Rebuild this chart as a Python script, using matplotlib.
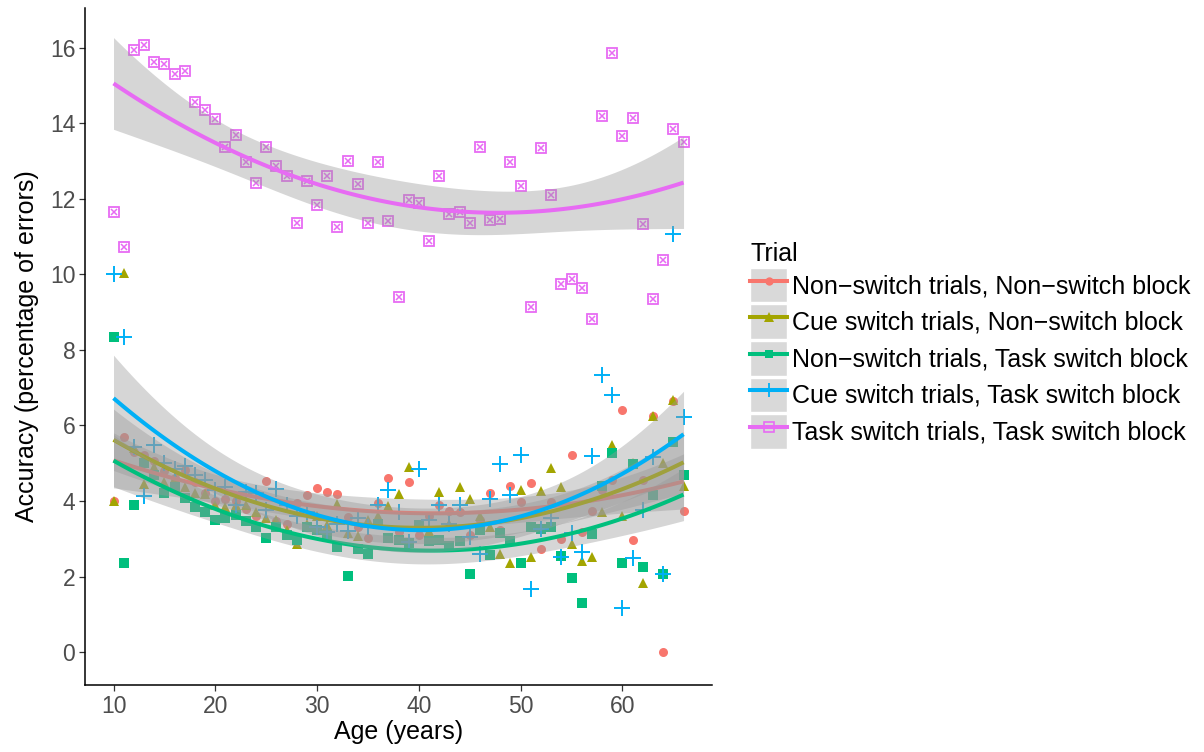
import matplotlib

matplotlib.use("Agg")
import matplotlib.pyplot as plt
import numpy as np
from matplotlib.lines import Line2D
from matplotlib.patches import Patch

plt.rcParams["font.family"] = ["Liberation Sans", "DejaVu Sans"]

ages = np.arange(10, 67)

# accuracy (% errors) per age, one list per trial type
nonswitch_nsblock = [
    4.00, 5.70, 5.30, 5.23, 5.06, 4.80, 4.60, 4.83, 4.50, 4.20,
    4.00, 4.04, 4.00, 3.80, 3.60, 4.53, 3.48, 3.40, 3.95, 4.15,
    4.35, 4.24, 4.18, 3.58, 3.31, 3.03, 3.95, 4.60, 3.18, 4.49,
    3.11, 3.60, 3.89, 3.74, 3.70, 3.10, 3.49, 4.20, 3.23, 4.39,
    3.98, 4.48, 2.72, 3.98, 3.00, 5.21, 3.18, 3.73, 4.30, 4.55,
    6.40, 2.98, 4.55, 6.24, 0.00, 6.64, 3.73,
]
cue_nsblock = [
    4.00, 10.03, 5.40, 4.44, 4.90, 4.50, 4.60, 4.37, 4.20, 4.18,
    3.89, 3.85, 3.90, 3.89, 3.70, 3.54, 3.50, 3.23, 2.85, 3.40,
    3.60, 3.36, 3.93, 3.16, 3.08, 3.49, 3.60, 3.86, 4.18, 4.89,
    3.30, 3.20, 4.23, 3.40, 4.37, 4.05, 3.60, 3.30, 2.60, 2.37,
    4.30, 2.51, 4.26, 4.88, 4.37, 2.87, 2.41, 2.51, 3.70, 5.48,
    3.60, 5.01, 1.83, 6.24, 5.01, 6.67, 4.39,
]
nonswitch_tsblock = [
    8.33, 2.37, 3.90, 5.01, 4.70, 4.20, 4.37, 4.07, 3.83, 3.71,
    3.51, 3.56, 3.62, 3.48, 3.30, 3.03, 3.30, 3.10, 2.97, 3.30,
    3.23, 3.10, 2.79, 2.01, 2.74, 2.59, 3.40, 3.01, 2.96, 2.89,
    3.36, 2.94, 2.98, 2.80, 2.94, 2.06, 3.23, 2.57, 3.16, 2.94,
    2.37, 3.30, 3.25, 3.30, 2.54, 1.95, 1.31, 3.12, 4.40, 5.27,
    2.37, 4.99, 2.24, 4.15, 2.06, 5.55, 4.68,
]
cue_tsblock = [
    10.02, 8.33, 5.43, 4.13, 5.47, 5.01, 4.86, 4.92, 4.70, 4.55,
    4.30, 4.37, 3.89, 4.24, 4.20, 3.76, 4.33, 3.90, 3.60, 3.70,
    3.31, 3.18, 3.40, 3.20, 3.56, 3.30, 3.90, 4.29, 3.70, 2.92,
    4.86, 3.50, 3.90, 3.40, 3.89, 3.05, 2.59, 4.05, 4.97, 4.15,
    5.21, 1.66, 3.25, 3.54, 2.52, 3.14, 2.65, 5.18, 7.33, 6.80,
    1.18, 2.48, 3.76, 5.17, 2.08, 11.08, 6.22,
]
task_tsblock = [
    11.65, 10.72, 15.93, 16.06, 15.62, 15.57, 15.31, 15.38, 14.57, 14.36,
    14.11, 13.37, 13.68, 12.97, 12.42, 13.37, 12.87, 12.60, 11.36, 12.47,
    11.83, 12.60, 11.24, 13.00, 12.40, 11.37, 12.96, 11.41, 9.39, 11.96,
    11.88, 10.88, 12.59, 11.60, 11.65, 11.35, 13.36, 11.44, 11.46, 12.96,
    12.34, 9.14, 13.34, 12.11, 9.75, 9.88, 9.64, 8.82, 14.18, 15.86,
    13.65, 14.13, 11.32, 9.35, 10.39, 13.85, 13.50,
]

labels = [
    "Non\u2212switch trials, Non\u2212switch block",
    "Cue switch trials, Non\u2212switch block",
    "Non\u2212switch trials, Task switch block",
    "Cue switch trials, Task switch block",
    "Task switch trials, Task switch block",
]
colors = ["#F8766D", "#A3A500", "#00BF7D", "#00B0F6", "#E76BF3"]
series = [nonswitch_nsblock, cue_nsblock, nonswitch_tsblock, cue_tsblock, task_tsblock]


def quad_fit(x, y, grid, t=2.005):
    """Quadratic lm fit with 95% confidence band."""
    X = np.column_stack([np.ones_like(x), x, x ** 2])
    beta, *_ = np.linalg.lstsq(X, y, rcond=None)
    resid = y - X @ beta
    s2 = resid @ resid / (len(x) - 3)
    xtx_inv = np.linalg.inv(X.T @ X)
    G = np.column_stack([np.ones_like(grid), grid, grid ** 2])
    fit = G @ beta
    se = np.sqrt(np.einsum("ij,jk,ik->i", G, xtx_inv, G) * s2)
    return fit, fit - t * se, fit + t * se


fig = plt.figure(figsize=(12.04, 7.52), dpi=100)
ax = fig.add_axes([0.0706, 0.0891, 0.5208, 0.9003])

x = ages.astype(float)
pt = dict(linestyle="none", zorder=2)
ax.plot(x, series[0], marker="o", ms=6.5, mew=0, color=colors[0], **pt)
ax.plot(x, series[1], marker="^", ms=7.5, mew=0, color=colors[1], **pt)
ax.plot(x, series[2], marker="s", ms=6.5, mew=0, color=colors[2], **pt)
ax.plot(x, series[3], marker="+", ms=11, mew=1.4, color=colors[3], **pt)
ax.plot(x, series[4], marker="s", ms=7.5, mew=1.3, mfc="none", color=colors[4], **pt)
ax.plot(x, series[4], marker="x", ms=4.5, mew=1.1, color=colors[4], **pt)

grid = np.linspace(10, 66, 120)
for i, (vals, col) in enumerate(zip(series, colors)):
    fit, lo, hi = quad_fit(x, np.asarray(vals), grid)
    ax.fill_between(grid, lo, hi, color="#999999", alpha=0.4, lw=0, zorder=3 + 2 * i)
    ax.plot(grid, fit, color=col, lw=2.9, zorder=4 + 2 * i, solid_capstyle="butt")

ax.set_xlim(7.2, 68.8)
ax.set_ylim(-0.87, 17.05)
ax.set_xticks([10, 20, 30, 40, 50, 60])
ax.set_yticks([0, 2, 4, 6, 8, 10, 12, 14, 16])
for side in ("top", "right"):
    ax.spines[side].set_visible(False)
for side in ("left", "bottom"):
    ax.spines[side].set_linewidth(1.1)
ax.tick_params(length=4, width=0.9, color="#333333", labelcolor="#4D4D4D",
               labelsize=16.5, pad=3)
ax.set_xlabel("Age (years)", fontsize=18, labelpad=2)
ax.set_ylabel("Accuracy (percentage of errors)", fontsize=18, labelpad=8)

handles = []
for col, m, ms, fill in [
    (colors[0], "o", 6, True), (colors[1], "^", 6.5, True),
    (colors[2], "s", 6, True), (colors[3], "+", 10, True),
    (colors[4], "s", 7, False),
]:
    mew = 1.3 if m == "+" else (1.2 if not fill else 0)
    ln = Line2D([], [], color=col, lw=2.9, marker=m, ms=ms, mew=mew,
                mfc=col if fill else "none")
    handles.append((Patch(facecolor="#D9D9D9", edgecolor="white", lw=1), ln))

leg = fig.legend(handles, labels, loc="upper left", bbox_to_anchor=(0.619, 0.685),
                 borderaxespad=0, frameon=False, fontsize=18, title="Trial",
                 title_fontsize=18, alignment="left", handlelength=1.48,
                 handleheight=1.75, handletextpad=0.2, labelspacing=0.08,
                 borderpad=0.2)

fig.savefig("out.png", dpi=100)
